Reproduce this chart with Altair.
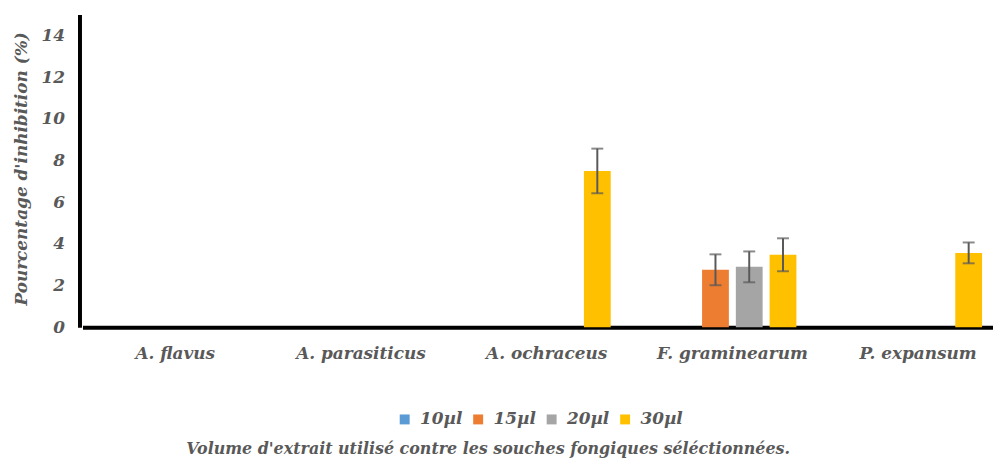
import altair as alt
import pandas as pd

strains = ["A. flavus", "A. parasiticus", "A. ochraceus", "F. graminearum", "P. expansum"]
volumes = ["10µl", "15µl", "20µl", "30µl"]
colors = ["#5B9BD5", "#ED7D31", "#A5A5A5", "#FFC000"]

v10 = [0, 0, 0, 0, 0]
v15 = [0, 0, 0, 2.76, 0]
v20 = [0, 0, 0, 2.90, 0]
v30 = [0, 0, 7.50, 3.48, 3.57]

e10 = [0, 0, 0, 0, 0]
e15 = [0, 0, 0, 0.74, 0]
e20 = [0, 0, 0, 0.74, 0]
e30 = [0, 0, 1.07, 0.79, 0.50]

vals = [v10, v15, v20, v30]
errs = [e10, e15, e20, e30]

rows, erows = [], []
for vi, vol in enumerate(volumes):
    for si, s in enumerate(strains):
        v = vals[vi][si]
        e = errs[vi][si]
        rows.append({"strain": s, "volume": vol, "value": v})
        if e > 0:
            erows.append({"strain": s, "volume": vol, "low": v - e, "high": v + e})

df = pd.DataFrame(rows)
edf = pd.DataFrame(erows)

FONT = "DejaVu Serif"
GRAY = "#595959"
FS = 17

xscale = alt.Scale(domain=strains, range=[3, 938], paddingInner=0, paddingOuter=0)
xoscale = alt.Scale(domain=volumes, paddingInner=0.206, paddingOuter=0.853)
yscale = alt.Scale(domain=[0, 15])

bars = alt.Chart(df).mark_bar().encode(
    x=alt.X("strain:N", sort=strains, scale=xscale,
            axis=alt.Axis(title="Volume d'extrait utilisé contre les souches fongiques séléctionnées.",
                          domainColor="black", domainWidth=4, ticks=False, labelAngle=0,
                          labelFont=FONT, labelFontSize=FS, labelFontStyle="italic",
                          labelFontWeight="bold", labelColor=GRAY, labelPadding=18,
                          titleFont=FONT, titleFontSize=16, titleFontStyle="italic",
                          titleFontWeight="bold", titleColor=GRAY,
                          titleX=411, titleY=127, titleAlign="center",
                          titleBaseline="alphabetic")),
    xOffset=alt.XOffset("volume:N", sort=volumes, scale=xoscale),
    y=alt.Y("value:Q", scale=yscale,
            axis=alt.Axis(title="Pourcentage d'inhibition (%)", values=[0, 2, 4, 6, 8, 10, 12, 14],
                          grid=False, ticks=False, domainColor="black", domainWidth=4,
                          labelFont=FONT, labelFontSize=FS, labelFontStyle="italic",
                          labelFontWeight="bold", labelColor=GRAY, labelPadding=15,
                          titleFont=FONT, titleFontSize=FS, titleFontStyle="italic",
                          titleFontWeight="bold", titleColor=GRAY,
                          titleX=-58, titleY=155, titleBaseline="middle", titleAlign="center")),
    color=alt.Color("volume:N", sort=volumes, scale=alt.Scale(domain=volumes, range=colors),
                    legend=alt.Legend(title=None, orient="none", legendX=319, legendY=399,
                                      direction="horizontal", symbolType="square",
                                      symbolSize=100, symbolStrokeWidth=0,
                                      labelFont=FONT, labelFontSize=FS, labelFontStyle="italic",
                                      labelFontWeight="bold", labelColor=GRAY,
                                      labelOffset=7, columnPadding=7)),
)

ex = alt.X("strain:N", sort=strains, scale=xscale)
exo = alt.XOffset("volume:N", sort=volumes, scale=xoscale)

rules = alt.Chart(edf).mark_rule(color=GRAY, strokeWidth=2).encode(
    x=ex, xOffset=exo, y=alt.Y("low:Q", scale=yscale), y2="high:Q")
tick_hi = alt.Chart(edf).mark_tick(color=GRAY, thickness=2, size=12).encode(
    x=ex, xOffset=exo, y=alt.Y("high:Q", scale=yscale))
tick_lo = alt.Chart(edf).mark_tick(color=GRAY, thickness=2, size=12).encode(
    x=ex, xOffset=exo, y=alt.Y("low:Q", scale=yscale))

chart = alt.layer(bars, rules, tick_hi, tick_lo).properties(
    width=920, height=315,
    autosize=alt.AutoSizeParams(type="none"),
    padding={"left": 72, "top": 5, "right": 0, "bottom": 131},
).configure_view(stroke=None)

chart.save("out.html", embed_options={"renderer": "svg", "actions": False})
